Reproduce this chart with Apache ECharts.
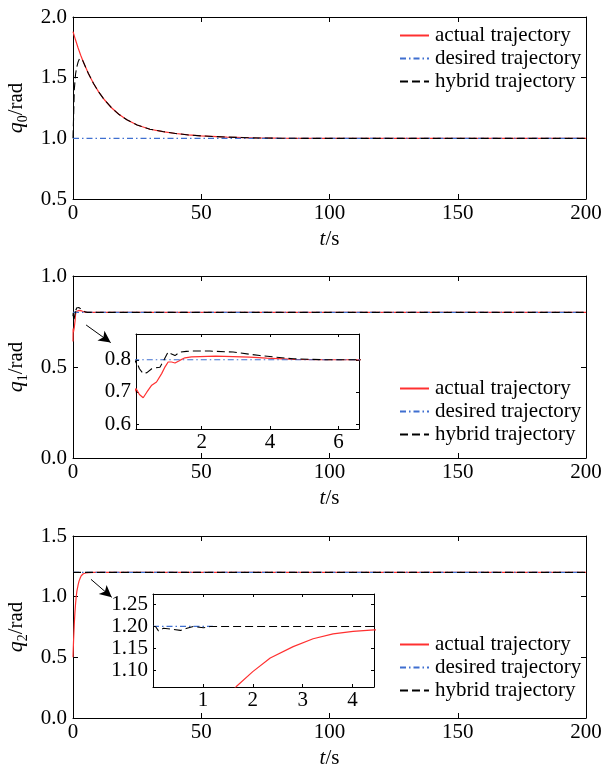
<!DOCTYPE html>
<html><head><meta charset="utf-8">
<script src="https://cdn.jsdelivr.net/npm/echarts@6/dist/echarts.min.js"></script>
<style>html,body{margin:0;padding:0;background:#fff}#c{width:601px;height:769px}</style>
</head><body><div id="c"></div>
<script>
// ---------- data ----------
const q0ActT   = [0, 1, 2, 3, 4, 6, 8, 10, 12, 15, 18, 21, 25, 30, 35, 40, 45, 50, 60, 70, 80, 90, 100, 150, 200];
const q0Actual = [1.880, 1.810, 1.745, 1.685, 1.631, 1.534, 1.452, 1.383, 1.324, 1.252, 1.196, 1.153, 1.110, 1.075, 1.056, 1.040, 1.028, 1.020, 1.010, 1.004, 1.001, 1.000, 1.000, 1.000, 1.000];
const q0HybT   = [0, 0.2, 0.5, 1.0, 1.5, 2.0, 2.5, 3.0, 3.5, 4, 6, 8, 10, 12, 15, 18, 21, 25, 30, 35, 40, 45, 50, 60, 70, 80, 90, 100, 150, 200];
const q0Hybrid = [1.000, 1.150, 1.400, 1.530, 1.590, 1.630, 1.655, 1.665, 1.655, 1.631, 1.534, 1.452, 1.383, 1.324, 1.252, 1.196, 1.153, 1.110, 1.075, 1.056, 1.040, 1.028, 1.020, 1.010, 1.004, 1.001, 1.000, 1.000, 1.000, 1.000];
const q0DesT   = [0, 200];
const q0Desired= [1.0, 1.0];

const q1ActT   = [0, 0.04, 0.08, 0.18, 0.29, 0.40, 0.54, 0.68, 0.83, 0.93, 1.02, 1.12, 1.22, 1.36, 1.51, 1.70, 1.95, 2.4, 2.92, 3.4, 3.9, 4.7, 5.6, 6.6, 10, 200];
const q1Actual = [0.640, 0.700, 0.711, 0.692, 0.682, 0.700, 0.721, 0.731, 0.757, 0.778, 0.793, 0.793, 0.790, 0.798, 0.806, 0.809, 0.810, 0.811, 0.810, 0.808, 0.805, 0.801, 0.800, 0.800, 0.800, 0.800];
const q1HybT   = [0, 0.08, 0.18, 0.29, 0.40, 0.54, 0.66, 0.78, 0.90, 1.02, 1.12, 1.22, 1.36, 1.55, 1.75, 2.24, 2.92, 3.7, 4.68, 5.65, 6.6, 10, 200];
const q1Hybrid = [0.780, 0.798, 0.772, 0.757, 0.760, 0.772, 0.775, 0.777, 0.800, 0.824, 0.818, 0.813, 0.824, 0.826, 0.827, 0.827, 0.824, 0.813, 0.803, 0.800, 0.800, 0.800, 0.800];
const q1DesT   = [0, 200];
const q1Desired= [0.8, 0.8];

const q2ActT   = [0, 0.1, 0.25, 0.5, 0.75, 1.0, 1.25, 1.5, 1.67, 2.0, 2.35, 2.81, 3.21, 3.61, 4.01, 4.43, 5, 6, 8, 200];
const q2Actual = [0.500, 0.567, 0.655, 0.775, 0.869, 0.942, 0.999, 1.044, 1.063, 1.097, 1.128, 1.154, 1.172, 1.183, 1.189, 1.192, 1.195, 1.198, 1.200, 1.200];
const q2HybT   = [0, 0.05, 0.11, 0.21, 0.35, 0.55, 0.68, 0.81, 1.01, 1.15, 200];
const q2Hybrid = [1.200, 1.200, 1.190, 1.196, 1.194, 1.191, 1.196, 1.200, 1.197, 1.200, 1.200];
const q2DesT   = [0, 200];
const q2Desired= [1.2, 1.2];
const q2DesInsetT = [0, 1.2];
const q2DesInset  = [1.2, 1.2];

const mainXTicks   = [0, 50, 100, 150, 200];
const q0YTicks     = [0.5, 1.0, 1.5, 2.0];
const q1YTicks     = [0.0, 0.5, 1.0];
const q2YTicks     = [0.0, 0.5, 1.0, 1.5];
const in1XTicks    = [2, 4, 6];
const in1YTicks    = [0.6, 0.7, 0.8];
const in2XTicks    = [1, 2, 3, 4];
const in2YTicks    = [1.10, 1.15, 1.20, 1.25];

const seriesNames = ['actual trajectory', 'desired trajectory', 'hybrid trajectory'];

// ---------- styling ----------
const FONT = 'Liberation Serif';
const FS = 21;
const RED = '#ff3030', BLUE = '#3f6fd0', BLACK = '#000';
const gridBase = {outerBoundsMode: 'none', containLabel: false};
const grids = [
  Object.assign({left: 73, top: 17, width: 513, height: 182}, gridBase),
  Object.assign({left: 73, top: 276, width: 513, height: 182}, gridBase),
  Object.assign({left: 73, top: 536, width: 513, height: 182}, gridBase),
  Object.assign({left: 136, top: 334, width: 223, height: 95, show: true, backgroundColor: '#fff', borderWidth: 0, z: 5}, gridBase),
  Object.assign({left: 153, top: 594, width: 221, height: 93, show: true, backgroundColor: '#fff', borderWidth: 0, z: 5}, gridBase)
];

const zip = (t, v) => t.map((x, i) => [x, v[i]]);
const xAxes = [], yAxes = [];

function addAxes(gi, xc, yc) {
  const base = (c, pos, labels) => ({
    type: 'value', gridIndex: gi, position: pos,
    min: c.min, max: c.max,
    axisLine: {show: true, onZero: false, lineStyle: {color: '#000', width: 1}},
    axisTick: {show: true, inside: true, length: c.tick, lineStyle: {color: '#000', width: 1}, customValues: c.ticks},
    axisLabel: {show: labels, customValues: c.ticks, formatter: v => (+v).toFixed(c.dec),
      fontFamily: FONT, fontSize: FS, color: '#000', margin: c.margin},
    splitLine: {show: false},
    z: gi >= 3 ? 6 : 2
  });
  const xa = base(xc, 'bottom', true);
  if (xc.name) {
    xa.name = xc.name; xa.nameLocation = 'middle'; xa.nameGap = xc.nameGap;
    xa.nameTextStyle = {fontFamily: FONT, fontSize: FS, color: '#000',
      rich: {i: {fontStyle: 'italic', fontFamily: FONT, fontSize: FS, color: '#000'},
             n: {fontFamily: FONT, fontSize: FS, color: '#000'}}};
  }
  const ya = base(yc, 'left', true);
  if (yc.name) {
    ya.name = yc.name; ya.nameLocation = 'middle'; ya.nameGap = yc.nameGap; ya.nameRotate = 90;
    ya.nameTextStyle = {fontFamily: FONT, fontSize: FS, color: '#000',
      rich: {i: {fontStyle: 'italic', fontFamily: FONT, fontSize: 22, color: '#000', lineHeight: 22, verticalAlign: 'top'},
             s: {fontFamily: FONT, fontSize: 14, color: '#000', lineHeight: 15, padding: [11, 0, 0, 0], verticalAlign: 'top'},
             n: {fontFamily: FONT, fontSize: FS, color: '#000', lineHeight: 22, verticalAlign: 'top', padding: [1, 0, 0, 0]}}};
  }
  xAxes.push(xa); yAxes.push(ya);
  const xi = xAxes.length - 1, yi = yAxes.length - 1;
  xAxes.push(base(xc, 'top', false));
  yAxes.push(base(yc, 'right', false));
  return [xi, yi];
}

const mainX = (name) => ({min: 0, max: 200, ticks: mainXTicks, dec: 0, tick: 5, margin: 4, name: name, nameGap: 30});
const ax0 = addAxes(0, mainX('{i|t}{n|/s}'), {min: 0.5, max: 2.0, ticks: q0YTicks, dec: 1, tick: 5, margin: 6, name: '{i|q}{s|0}{n|/rad}', nameGap: 41});
const ax1 = addAxes(1, mainX('{i|t}{n|/s}'), {min: 0, max: 1.0, ticks: q1YTicks, dec: 1, tick: 5, margin: 6, name: '{i|q}{s|1}{n|/rad}', nameGap: 41});
const ax2 = addAxes(2, mainX('{i|t}{n|/s}'), {min: 0, max: 1.5, ticks: q2YTicks, dec: 1, tick: 5, margin: 6, name: '{i|q}{s|2}{n|/rad}', nameGap: 41});
const ax3 = addAxes(3, {min: 0.08, max: 6.6, ticks: in1XTicks, dec: 0, tick: 3, margin: 3}, {min: 0.585, max: 0.88, ticks: in1YTicks, dec: 1, tick: 3, margin: 5});
const ax4 = addAxes(4, {min: 0, max: 4.43, ticks: in2XTicks, dec: 0, tick: 3, margin: 3}, {min: 1.062, max: 1.274, ticks: in2YTicks, dec: 2, tick: 3, margin: 5});

const sActual  = (ax, d) => ({type: 'line', name: seriesNames[0], xAxisIndex: ax[0], yAxisIndex: ax[1], data: d, showSymbol: false, symbol: 'none', clip: true, z: 2,
  lineStyle: {color: RED, width: 1.2, type: 'solid'}, itemStyle: {color: RED}});
const sDesired = (ax, d, extra) => Object.assign({type: 'line', name: seriesNames[1], xAxisIndex: ax[0], yAxisIndex: ax[1], data: d, showSymbol: false, symbol: 'none', clip: true, z: 3,
  lineStyle: {color: BLUE, width: 1.2, type: [6, 3, 1.5, 3]}, itemStyle: {color: BLUE}}, extra || {});
const sHybrid  = (ax, d) => ({type: 'line', name: seriesNames[2], xAxisIndex: ax[0], yAxisIndex: ax[1], data: d, showSymbol: false, symbol: 'none', clip: true, z: 4,
  lineStyle: {color: BLACK, width: 1.1, type: [8, 4]}, itemStyle: {color: BLACK}});

const arrow = (p0, p1) => ({markLine: {silent: true, symbol: ['none', 'arrow'], symbolSize: [9, 12], label: {show: false},
  lineStyle: {color: '#000', width: 1, type: 'solid'}, emphasis: {disabled: true},
  data: [[{coord: p0}, {coord: p1}]]}});
// arrow anchors (data coordinates of the main panels)
const arrow1 = [[5.1, 0.731], [14.7, 0.634]];
const arrow2 = [[7.0, 1.143], [15.1, 0.995]];

const series = [
  sActual(ax0, zip(q0ActT, q0Actual)), sDesired(ax0, zip(q0DesT, q0Desired)), sHybrid(ax0, zip(q0HybT, q0Hybrid)),
  sActual(ax1, zip(q1ActT, q1Actual)), sDesired(ax1, zip(q1DesT, q1Desired), arrow(arrow1[0], arrow1[1])), sHybrid(ax1, zip(q1HybT, q1Hybrid)),
  sActual(ax2, zip(q2ActT, q2Actual)), sDesired(ax2, zip(q2DesT, q2Desired), arrow(arrow2[0], arrow2[1])), sHybrid(ax2, zip(q2HybT, q2Hybrid)),
  Object.assign(sActual(ax3, zip(q1ActT, q1Actual)), {z: 7}), Object.assign(sDesired(ax3, zip(q1DesT, q1Desired)), {z: 8}), Object.assign(sHybrid(ax3, zip(q1HybT, q1Hybrid)), {z: 9}),
  Object.assign(sActual(ax4, zip(q2ActT, q2Actual)), {z: 7}), Object.assign(sDesired(ax4, zip(q2DesInsetT, q2DesInset)), {z: 8}), Object.assign(sHybrid(ax4, zip(q2HybT, q2Hybrid)), {z: 9})
];

const mkLegend = (top) => ({
  show: true, orient: 'vertical', left: 399, top: top, padding: 0, itemGap: 2,
  itemWidth: 29, itemHeight: 14, selectedMode: false, data: seriesNames,
  itemStyle: {opacity: 0},
  textStyle: {fontFamily: FONT, fontSize: FS, color: '#000', lineHeight: 21, padding: [0, 0, 0, 1]}
});

const chart = echarts.init(document.getElementById('c'), null, {renderer: 'canvas'});
chart.setOption({
  animation: false,
  backgroundColor: '#fff',
  grid: grids,
  xAxis: xAxes,
  yAxis: yAxes,
  legend: [mkLegend(25), mkLegend(378), mkLegend(634)],
  series: series
});
</script>
</body></html>
